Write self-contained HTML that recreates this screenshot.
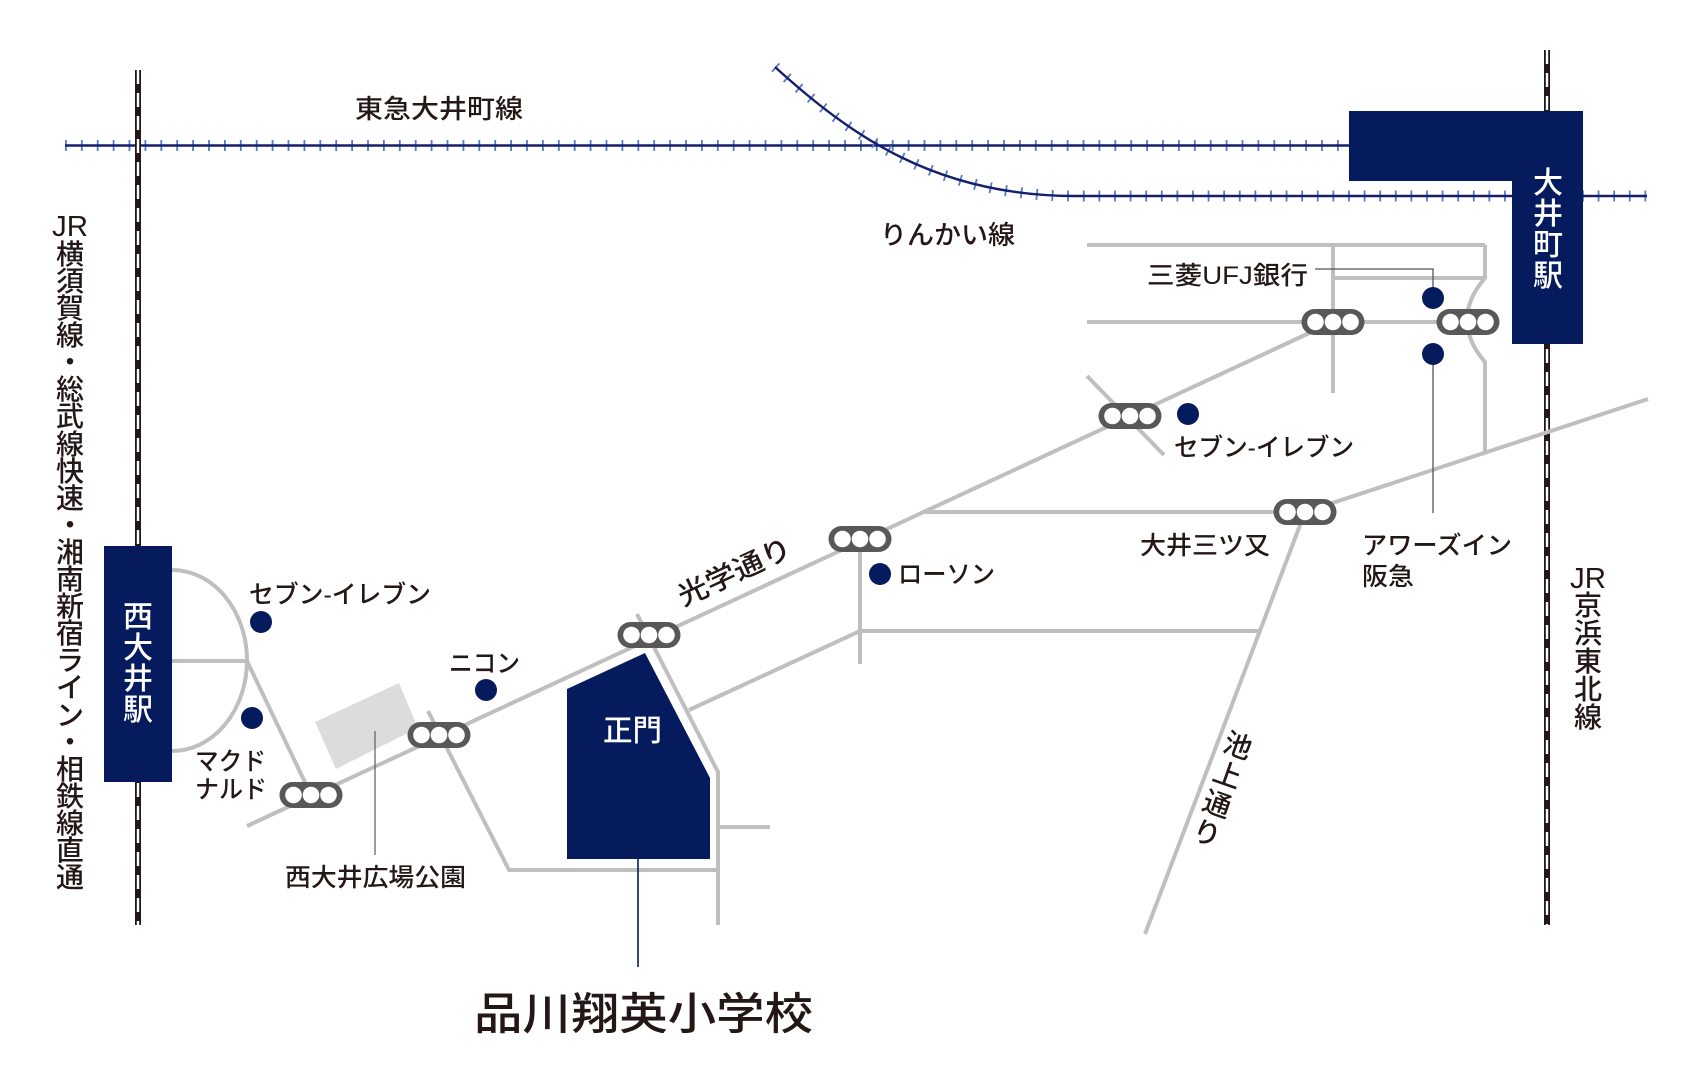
<!DOCTYPE html>
<html><head><meta charset="utf-8"><style>
html,body{margin:0;padding:0;background:#fff;}
svg{display:block;}
text{font-family:"Liberation Sans","Noto Sans CJK JP",sans-serif;fill:#231815;font-weight:500;}
</style></head><body>
<svg width="1699" height="1085" viewBox="0 0 1699 1085" xmlns="http://www.w3.org/2000/svg">
<rect width="1699" height="1085" fill="#fff"/>

<!-- Tokyu line -->
<path d="M65,145.5 H1349" stroke="#5a78c8" stroke-width="11" stroke-dasharray="1.8 14.1" fill="none"/>
<path d="M65,145.5 H1349" stroke="#14206b" stroke-width="2.4" fill="none"/>
<!-- Rinkai line -->
<path d="M775,67 C850,135 935,196 1075,196 H1647" stroke="#5a78c8" stroke-width="11" stroke-dasharray="1.8 13.8" fill="none"/>
<path d="M775,67 C850,135 935,196 1075,196 H1647" stroke="#14206b" stroke-width="2.4" fill="none"/>

<!-- JR tracks -->
<g fill="none">
<line x1="138" y1="70" x2="138" y2="925" stroke="#231815" stroke-width="6"/>
<line x1="138" y1="70" x2="138" y2="925" stroke="#fff" stroke-width="2.4" stroke-dasharray="14 9"/>
<line x1="1547" y1="50" x2="1547" y2="925" stroke="#231815" stroke-width="6"/>
<line x1="1547" y1="50" x2="1547" y2="925" stroke="#fff" stroke-width="2.4" stroke-dasharray="14 9"/>
</g>

<!-- Roads -->
<g stroke="#bfbfbf" stroke-width="4" fill="none" stroke-linejoin="round">
<line x1="247" y1="826" x2="1333" y2="322"/>
<line x1="1087" y1="322" x2="1490" y2="322"/>
<line x1="1087" y1="245" x2="1485" y2="245"/>
<line x1="1333" y1="245" x2="1333" y2="393"/>
<line x1="1333" y1="278" x2="1485" y2="278"/>
<path d="M1485,245 V278 Q1449,320 1485,362 V453"/>
<line x1="1087" y1="376" x2="1164" y2="455"/>
<line x1="923" y1="512" x2="1305" y2="512"/>
<line x1="1305" y1="512" x2="1648" y2="399"/>
<line x1="1305" y1="512" x2="1145" y2="934"/>
<line x1="860" y1="631" x2="1260" y2="631"/>
<line x1="860" y1="539" x2="860" y2="664"/>
<line x1="689" y1="710" x2="860" y2="631"/>
<path d="M637,614 L718,772 V925"/>
<line x1="718" y1="827" x2="770" y2="827"/>
<path d="M428,711 L509,870 H718"/>
<path d="M172,570 A75,90.5 0 0 1 172,751"/>
<line x1="172" y1="661" x2="247" y2="661"/>
<line x1="247" y1="661" x2="311" y2="795"/>
</g>

<!-- Park -->
<polygon points="315,722 399,683 418,728 336,769" fill="#dcdcdc"/>
<line x1="375" y1="731" x2="375" y2="855" stroke="#666" stroke-width="1.3"/>

<!-- School -->
<polygon points="567,689 645,653 710,778 710,859 567,859" fill="#061b5e"/>
<line x1="638" y1="859" x2="638" y2="967" stroke="#061b5e" stroke-width="1.6"/>

<!-- Stations -->
<rect x="104" y="546" width="68" height="236" fill="#061b5e"/>
<path d="M1349,111 H1583 V344 H1512 V181 H1349 Z" fill="#061b5e"/>

<!-- leaders -->
<path d="M1315,269 H1433 V290" stroke="#555" stroke-width="1.3" fill="none"/>
<line x1="1433" y1="354" x2="1433" y2="513" stroke="#555" stroke-width="1.3"/>

<!-- Dots -->
<g fill="#061b5e">
<circle cx="261" cy="622" r="11"/>
<circle cx="252" cy="718" r="11"/>
<circle cx="486" cy="690" r="11"/>
<circle cx="880" cy="574" r="11"/>
<circle cx="1188" cy="414" r="11"/>
<circle cx="1433" cy="298" r="11"/>
<circle cx="1433" cy="354" r="11"/>
</g>

<!-- Traffic lights -->
<defs>
<g id="tl">
<rect x="-31.5" y="-13" width="63" height="26" rx="13" fill="#595757"/>
<circle cx="-17.5" cy="0" r="8.3" fill="#fff"/>
<circle cx="0" cy="0" r="8.3" fill="#fff"/>
<circle cx="17.5" cy="0" r="8.3" fill="#fff"/>
</g>
</defs>
<use href="#tl" x="311" y="795"/>
<use href="#tl" x="439" y="735"/>
<use href="#tl" x="649" y="635"/>
<use href="#tl" x="860" y="539"/>
<use href="#tl" x="1130" y="416"/>
<use href="#tl" x="1333" y="322"/>
<use href="#tl" x="1468" y="322"/>
<use href="#tl" x="1305" y="512"/>

<!-- Labels -->
<text x="355" y="118" font-size="26" textLength="168" lengthAdjust="spacingAndGlyphs">東急大井町線</text>
<text x="880" y="244" font-size="26" textLength="135" lengthAdjust="spacingAndGlyphs">りんかい線</text>
<text x="1147" y="284" font-size="25" textLength="161" lengthAdjust="spacingAndGlyphs">三菱UFJ銀行</text>
<text x="1174" y="456" font-size="25" textLength="180" lengthAdjust="spacingAndGlyphs">セブン-イレブン</text>
<text x="1140" y="554" font-size="25" textLength="130" lengthAdjust="spacingAndGlyphs">大井三ツ又</text>
<text x="1362" y="554" font-size="25" textLength="150" lengthAdjust="spacingAndGlyphs">アワーズイン</text>
<text x="1362" y="585" font-size="25" textLength="52" lengthAdjust="spacingAndGlyphs">阪急</text>
<text x="898" y="583" font-size="25" textLength="97" lengthAdjust="spacingAndGlyphs">ローソン</text>
<text x="249" y="603" font-size="25" textLength="182" lengthAdjust="spacingAndGlyphs">セブン-イレブン</text>
<text x="449" y="672" font-size="25" textLength="71" lengthAdjust="spacingAndGlyphs">ニコン</text>
<text x="195" y="770" font-size="25" textLength="71" lengthAdjust="spacingAndGlyphs">マクド</text>
<text x="195" y="798" font-size="25" textLength="72" lengthAdjust="spacingAndGlyphs">ナルド</text>
<text x="285" y="886" font-size="25" textLength="181" lengthAdjust="spacingAndGlyphs">西大井広場公園</text>
<text x="603" y="741" font-size="30" textLength="59" lengthAdjust="spacingAndGlyphs" style="fill:#fff">正門</text>
<text x="474" y="1029" font-size="44" textLength="339" lengthAdjust="spacingAndGlyphs">品川翔英小学校</text>

<!-- rotated road labels -->
<text transform="translate(734.5,571.7) rotate(-24.9)" x="0" y="10" font-size="28" text-anchor="middle" textLength="122" lengthAdjust="spacingAndGlyphs">光学通り</text>
<g transform="translate(1222.5,789) rotate(19.4)" font-size="28" text-anchor="middle">
<text x="0" y="-36">池</text>
<text x="0" y="-5">上</text>
<text x="0" y="26">通</text>
<text x="0" y="57">り</text>
</g>

<!-- Station names -->
<g font-size="30" text-anchor="middle">
<text x="138" y="627" style="fill:#fff">西</text>
<text x="138" y="658" style="fill:#fff">大</text>
<text x="138" y="689" style="fill:#fff">井</text>
<text x="138" y="720" style="fill:#fff">駅</text>
<text x="1548" y="193" style="fill:#fff">大</text>
<text x="1548" y="224" style="fill:#fff">井</text>
<text x="1548" y="255" style="fill:#fff">町</text>
<text x="1548" y="286" style="fill:#fff">駅</text>
</g>

<!-- JR left vertical label -->
<g font-size="28" text-anchor="middle">
<text x="70" y="236" font-size="29" textLength="36" lengthAdjust="spacingAndGlyphs">JR</text>
<text x="70" y="264">横</text>
<text x="70" y="291">須</text>
<text x="70" y="318">賀</text>
<text x="70" y="345">線</text>
<text x="70" y="372">・</text>
<text x="70" y="399">総</text>
<text x="70" y="426">武</text>
<text x="70" y="454">線</text>
<text x="70" y="481">快</text>
<text x="70" y="508">速</text>
<text x="70" y="535">・</text>
<text x="70" y="562">湘</text>
<text x="70" y="589">南</text>
<text x="70" y="616">新</text>
<text x="70" y="643">宿</text>
<text x="70" y="670">ラ</text>
<text x="70" y="697">イ</text>
<text x="70" y="725">ン</text>
<text x="70" y="752">・</text>
<text x="70" y="779">相</text>
<text x="70" y="806">鉄</text>
<text x="70" y="833">線</text>
<text x="70" y="860">直</text>
<text x="70" y="887">通</text>
</g>

<!-- JR right vertical label -->
<g font-size="28" text-anchor="middle">
<text x="1588" y="588" font-size="29" textLength="36" lengthAdjust="spacingAndGlyphs">JR</text>
<text x="1588" y="615">京</text>
<text x="1588" y="643">浜</text>
<text x="1588" y="671">東</text>
<text x="1588" y="699">北</text>
<text x="1588" y="727">線</text>
</g>
</svg>
</body></html>
